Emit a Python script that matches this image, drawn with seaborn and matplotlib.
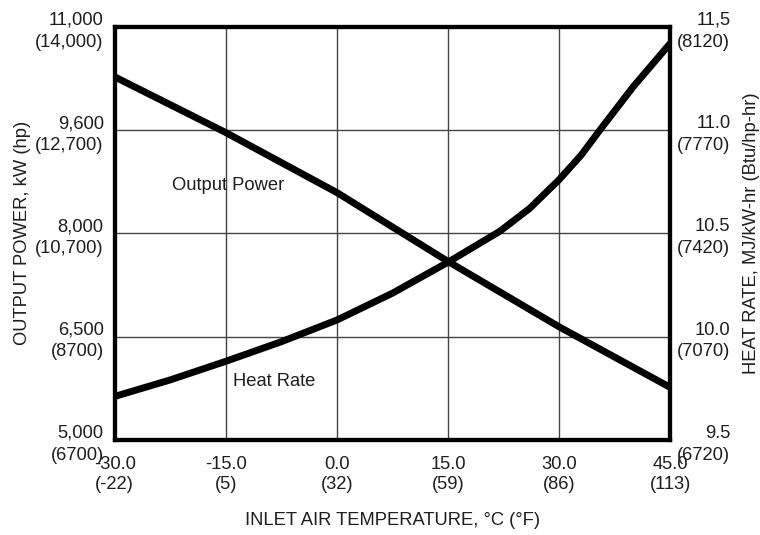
import numpy as np
import pandas as pd
import matplotlib
matplotlib.use("Agg")
import matplotlib.pyplot as plt
import seaborn as sns

# ------------------------------------------------------------
# Output power and heat rate vs. inlet air temperature
# ------------------------------------------------------------

# inlet air temperature, degC
temp_c = [-30.0, -15.0, 0.0, 15.0, 30.0, 45.0]
temp_f_labels = ["(-22)", "(5)", "(32)", "(59)", "(86)", "(113)"]

# output power, kW
power_kw = [10320, 9560, 8630, 7590, 6640, 5760]

# heat rate, MJ/kW-hr (more points because it bends)
hr_temp_c = [-30.0, -22.5, -15.0, -7.5, 0.0, 7.5, 15.0, 22.0, 26.0, 30.0, 33.0, 35.5, 40.0, 45.0]
heat_rate = [9.71, 9.79, 9.88, 9.975, 10.08, 10.21, 10.36, 10.51, 10.62, 10.76, 10.88, 11.0, 11.21, 11.42]

# left axis ticks (the grid is evenly spaced although the labels are not)
power_ticks = [5000, 6500, 8000, 9600, 11000]
power_labels = ["5,000\n(6700)", "6,500\n(8700)", "8,000\n(10,700)",
                "9,600\n(12,700)", "11,000\n(14,000)"]

# right axis ticks
hr_ticks = [9.5, 10.0, 10.5, 11.0, 11.5]
hr_labels = ["9.5\n(6720)", "10.0\n(7070)", "10.5\n(7420)",
             "11.0\n(7770)", "11,5\n(8120)"]

power_df = pd.DataFrame({"temp": temp_c, "power": power_kw})
hr_df = pd.DataFrame({"temp": hr_temp_c, "heat_rate": heat_rate})

sns.set_style("white")
plt.rcParams["font.family"] = ["Liberation Sans", "DejaVu Sans"]
FS = 13.2
LS = 1.38
TXT = "#1e1e1e"

fig = plt.figure(figsize=(7.6, 5.35), dpi=100)
ax = fig.add_axes([0.151, 0.178, 0.731, 0.772])

# piecewise scale so the left gridlines are evenly spaced
grid_pos = np.arange(len(power_ticks))


def fwd(v):
    return np.interp(v, power_ticks, grid_pos)


def inv(g):
    return np.interp(g, grid_pos, power_ticks)


ax.set_yscale("function", functions=(fwd, inv))

sns.lineplot(data=power_df, x="temp", y="power", ax=ax,
             color="black", linewidth=5, solid_capstyle="butt")

ax.set_xlim(-30, 45)
ax.set_ylim(5000, 11000)
ax.set_xticks(temp_c)
ax.set_xticklabels([f"{t:.1f}\n{f}" for t, f in zip(temp_c, temp_f_labels)],
                   fontsize=FS, linespacing=1.2)
ax.set_yticks(power_ticks)
ax.set_yticklabels(power_labels, fontsize=FS, linespacing=LS)
for lbl in ax.get_yticklabels():
    lbl.set_multialignment("right")
ax.tick_params(axis="x", length=0, pad=12, colors=TXT)
ax.tick_params(axis="y", length=0, pad=8, colors=TXT)
ax.grid(True, color="#444444", linewidth=1.0)
ax.set_xlabel("INLET AIR TEMPERATURE, °C (°F)", fontsize=FS, color=TXT, labelpad=14)
ax.set_ylabel("OUTPUT POWER, kW (hp)", fontsize=FS, color=TXT, labelpad=3)

ax2 = ax.twinx()
sns.lineplot(data=hr_df, x="temp", y="heat_rate", ax=ax2,
             color="black", linewidth=5, solid_capstyle="butt")
ax2.set_ylim(9.5, 11.5)
ax2.set_yticks(hr_ticks)
ax2.set_yticklabels(hr_labels, fontsize=FS, linespacing=LS)
for lbl in ax2.get_yticklabels():
    lbl.set_multialignment("right")
ax2.tick_params(axis="y", length=0, pad=5, colors=TXT)
ax2.set_ylabel("HEAT RATE, MJ/kW-hr (Btu/hp-hr)", fontsize=FS, color=TXT, labelpad=9)
ax2.grid(False)

for a in (ax, ax2):
    for s in a.spines.values():
        s.set_color("black")
        s.set_linewidth(3)

ax.text(-22.3, 8740, "Output Power", fontsize=FS, color=TXT, va="center")
ax.text(-14.1, 5850, "Heat Rate", fontsize=FS, color=TXT, va="center")

fig.savefig("out.png", dpi=100)
